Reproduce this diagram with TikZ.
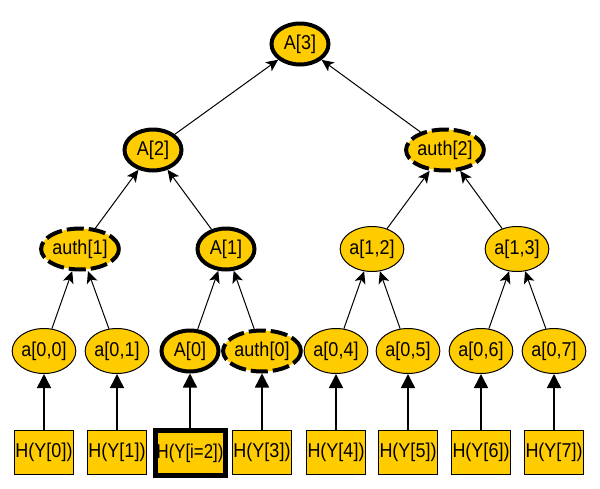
\documentclass[tikz,border=0pt]{standalone}
\usepackage{graphicx}
\usepackage{fontspec}
\setmainfont{Liberation Sans}
\usetikzlibrary{arrows.meta,shapes.geometric}
\definecolor{gold}{HTML}{FFCC00}
\newcommand{\tx}[1]{\scalebox{0.9}[1]{#1}}
\tikzset{
  x=1pt,y=-1pt,
  base/.style={ellipse,fill=gold,draw=black,minimum width=61pt,minimum height=45pt,inner sep=0pt,
    font=\fontsize{20}{22}\selectfont},
  plainnode/.style={base,line width=1pt},
  solidnode/.style={base,line width=4pt,minimum width=57pt,minimum height=41pt},
  authnode/.style={base,line width=4pt,dash pattern=on 17pt off 5pt,minimum width=57pt,minimum height=41pt},
  leafbox/.style={rectangle,fill=gold,draw=black,line width=1pt,minimum width=59pt,minimum height=44pt,inner sep=0pt,
    font=\fontsize{20}{22}\selectfont},
  pathbox/.style={leafbox,line width=5pt,minimum width=70pt,minimum height=45pt},
  uparrow/.style={line width=1pt,-{Stealth[width=11pt,length=12pt,inset=3pt]}},
  boxarrow/.style={line width=1.5pt,-{Triangle[width=14pt,length=14pt]}}
}
\begin{document}
\begin{tikzpicture}
\useasboundingbox (0,0) rectangle (600,488);
% boxes
\node[leafbox] (h0) at (44,452) {\tx{H(Y[0])}};
\node[leafbox] (h1) at (117,452) {\tx{H(Y[1])}};
\node[pathbox] (h2) at (190,453) {\scalebox{0.84}[1]{H(Y[i=2])}};
\node[leafbox] (h3) at (262,452) {\tx{H(Y[3])}};
\node[leafbox] (h4) at (336,452) {\tx{H(Y[4])}};
\node[leafbox] (h5) at (408,452) {\tx{H(Y[5])}};
\node[leafbox] (h6) at (481,452) {\tx{H(Y[6])}};
\node[leafbox] (h7) at (554,452) {\tx{H(Y[7])}};
% leaves
\node[plainnode] (a00) at (44,351) {\tx{a[0,0]}};
\node[plainnode] (a01) at (117,351) {\tx{a[0,1]}};
\node[solidnode] (A0) at (190,351) {\tx{A[0]}};
\node[authnode] (auth0) at (262,351) {\tx{auth[0]}};
\node[plainnode] (a04) at (336,351) {\tx{a[0,4]}};
\node[plainnode] (a05) at (408,351) {\tx{a[0,5]}};
\node[plainnode] (a06) at (481,351) {\tx{a[0,6]}};
\node[plainnode] (a07) at (554,351) {\tx{a[0,7]}};
% level 2
\node[authnode] (auth1) at (80,249) {\tx{auth[1]}};
\node[solidnode] (A1) at (226,249) {\tx{A[1]}};
\node[plainnode] (a12) at (372,249) {\tx{a[1,2]}};
\node[plainnode] (a13) at (517,249) {\tx{a[1,3]}};
% level 3
\node[solidnode] (A2) at (153,150) {\tx{A[2]}};
\node[authnode] (auth2) at (445,150) {\tx{auth[2]}};
% root
\node[solidnode] (A3) at (300,44) {\tx{A[3]}};
% box arrows
\foreach \b/\l in {h0/a00,h1/a01,h2/A0,h3/auth0,h4/a04,h5/a05,h6/a06,h7/a07}
  \draw[boxarrow] (\b.north) -- (\l.south);
% tree arrows
\foreach \c/\p in {a00/auth1,a01/auth1,A0/A1,auth0/A1,a04/a12,a05/a12,a06/a13,a07/a13,
                   auth1/A2,A1/A2,a12/auth2,a13/auth2,A2/A3,auth2/A3}
  \draw[uparrow] (\c) -- (\p);
\end{tikzpicture}
\end{document}
